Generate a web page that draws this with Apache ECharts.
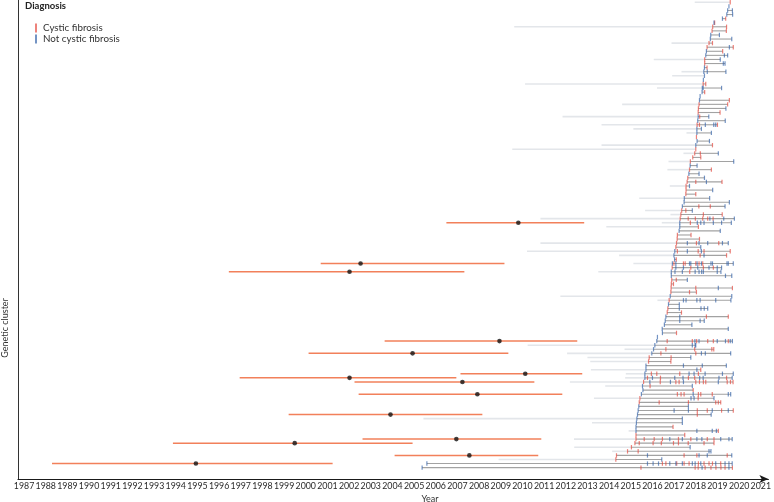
<!DOCTYPE html>
<html><head><meta charset="utf-8">
<script src="https://cdn.jsdelivr.net/npm/echarts@6/dist/echarts.min.js"></script>
<style>html,body{margin:0;padding:0;background:#fff}#c{width:774px;height:502px}</style>
</head><body><div id="c"></div>
<script>
const yearTicks = [1987,1988,1989,1990,1991,1992,1993,1994,1995,1996,1997,1998,1999,2000,2001,2002,2003,2004,2005,2006,2007,2008,2009,2010,2011,2012,2013,2014,2015,2016,2017,2018,2019,2020,2021];

// Earliest (faint) extent of each genetic cluster, row 0 = top
const faintStart = [
 2017.95,null,null,null,null,null,2009.62,null,null,null,
 2016.88,null,null,null,2016.06,null,null,2017.34,2016.91,null,
 2010.12,2016.21,null,null,null,2014.60,null,null,2011.85,null,
 2013.65,2015.12,2017.57,null,null,2013.65,2009.53,2017.43,null,2016.74,
 null,2016.69,null,null,null,2016.80,null,null,2015.39,null,
 null,2015.66,2016.83,2010.83,2016.43,2013.87,null,null,null,2010.83,
 null,2010.21,2014.46,null,2015.12,null,2013.50,null,null,null,
 null,null,2011.75,2016.23,null,null,null,null,null,null,
 null,null,null,null,2010.24,2014.71,2012.06,2013.00,2013.13,null,
 2013.16,2014.77,2014.74,2012.19,2013.82,null,null,2013.30,null,null,
 null,null,2005.43,2013.21,null,2014.90,null,2012.38,null,2012.39,
 2014.14,null,2008.90,null,null
];

// Isolate dates per cluster row: cystic fibrosis
const cfIsolates = [
 [2019.59],[],[],[],[2019.38],[2018.87],[2018.78,2019.42],[2018.75,2019.41],[],[],
 [2018.61,2018.77],[2018.52,2019.73],[2019.24],[],[2018.41],[2018.41],[2018.52],[],[],[],
 [2018.34,2018.46],[],[2018.41],[],[2019.55],[2018.15,2019.47],[2018.12],[2018.11,2019.12],[2018.18],[],
 [2018.06,2018.17,2019.00],[],[],[2018.03],[],[2018.77],[2018.00],[2017.95,2018.21],[2017.86,2018.23],[2017.75],
 [],[2017.71,2018.72],[],[2017.63],[2017.60,2018.00,2019.21],[2017.55],[2017.55],[2017.54,2018.00],[],[],
 [2018.14,2018.67],[2017.35,2017.54],[2017.31,2018.35,2019.22],[2017.28,2017.65,2017.98,2018.32,2018.55,2018.80],[2017.75],[2018.12],[],[2017.15,2017.78],[2017.14,2018.17],[2017.11,2018.03,2019.06],
 [2017.08],[2017.15,2018.11,2018.38,2019.59],[2018.20,2019.42],[2017.10],[2016.99,2017.43,2017.51,2018.00,2018.15,2018.32],[2016.91,2017.77,2018.35,2018.81],[2017.72],[],[2016.89,2017.10],[2016.87,2016.97],
 [2016.86,2018.00,2019.69],[2016.85,2017.71,2018.03],[],[2016.77],[],[2016.71],[2016.68,2017.34],[2018.49,2019.50],[],[],
 [],[2017.11],[],[2016.68,2017.84,2018.04,2018.55,2018.81,2019.50],[],[2016.62,2017.95,2018.74,2018.83],[2016.39,2018.00],[2015.85,2016.86],[2015.82,2016.85],[],
 [2018.23],[2015.95,2016.20,2017.26,2018.12],[2015.77,2016.37,2017.66,2017.95,2019.42],[2015.59,2016.36,2017.08,2017.23,2018.00,2018.17,2018.35,2018.46,2019.45,2019.60,2019.72],[2015.89],[2017.88],[2017.15,2017.32,2017.46,2018.12,2018.23,2018.76],[2015.42,2018.11],[2015.39,2016.31,2017.66,2018.92,2019.04,2019.15],[],
 [2018.07,2018.53,2019.19,2019.73],[2018.07],[],[],[2016.95],[2019.04],[2015.24,2017.49],[2015.24,2015.62,2016.08,2016.46,2017.20,2017.77,2018.53,2018.84],[2015.19,2015.39,2016.03,2016.41,2016.97,2017.20,2017.65,2018.38,2018.84],[2015.03],
 [2014.85,2015.34],[2014.34,2017.46,2018.05,2019.45],[2014.31],[2016.46,2016.62,2017.12,2017.46,2017.69,2018.12,2018.38,2018.61,2018.77,2019.15],[2015.47,2017.97,2018.11,2018.43,2018.70,2018.93,2019.16,2019.35,2019.69]
];

// Isolate dates per cluster row: not cystic fibrosis
const nonCfIsolates = [
 [],[2019.53],[2019.47,2019.69],[2019.43,2019.70],[2019.23],[2018.84],[],[],[2018.69,2019.09],[2018.67,2019.66],
 [],[2019.55],[2018.49],[2018.46,2019.32,2019.47],[2019.13],[2019.27,2019.35],[2018.40],[2018.37,2018.53,2019.39],[2018.40],[2018.35],
 [],[2018.30,2018.34,2019.19],[2018.29],[2018.20],[2018.17],[],[2019.39],[],[2018.11,2018.60],[2018.09,2019.36],
 [2018.44,2018.83,2018.92],[2018.05,2018.26],[2018.05,2018.72],[],[2018.06,2018.63],[2018.00],[],[2019.04],[],[2019.75],
 [2017.74,2018.06],[],[2017.68,2018.15],[2018.40],[2018.49],[2017.71],[2018.78],[],[2017.47,2018.64],[2017.46,2019.55],
 [2017.38,2019.35],[2017.84],[],[2018.65,2019.29,2019.78],[2017.26,2018.07,2018.23,2018.38,2018.81,2019.19,2019.64],[2017.26],[2017.23,2019.13],[],[],[2017.61,2018.15,2018.55,2019.23,2019.50],
 [2018.23],[2017.03,2017.61,2018.26],[2016.99,2018.38],[2017.02],[2016.92,2017.08,2017.71,2017.77,2018.06,2018.26,2018.70,2018.77,2019.44,2019.50,2019.73],[2017.08,2017.43,2018.09,2018.61,2018.99,2019.19],[2016.87,2017.04,2017.38,2017.97,2018.15,2018.27,2018.35,2018.99,2019.16],[2016.87,2019.37,2019.66],[2017.61],[],
 [2019.04],[],[2016.82,2019.66],[2017.43,2017.55,2018.05,2018.20,2018.92,2019.62],[2016.74,2017.24],[2017.24,2018.24,2018.39,2018.55],[],[2016.62,2017.26],[2016.59,2017.26,2018.20,2018.39],[2016.55,2017.82],
 [2016.45,2019.50],[2016.46],[2016.23],[2016.20,2017.96,2018.15,2018.99,2019.37,2019.59,2019.69],[2016.11,2017.84,2017.97,2018.00],[2016.05],[2015.97,2018.26,2018.44,2019.61],[2017.77],[],[2015.70,2017.43,2018.30,2019.41],
 [2015.70,2018.05],[2015.65,2017.69,2017.92,2018.43,2019.23,2019.73],[2015.65,2016.00,2017.03,2017.41,2018.18,2018.34,2019.07,2019.68],[2015.88,2016.83,2017.43,2019.04],[2015.54,2017.84],[2015.56],[2015.49,2017.88,2019.50,2019.61],[2017.78,2017.92,2018.84],[],[2015.37,2017.66],
 [2015.34,2017.00,2017.66,2018.76,2019.50],[2015.31,2018.71],[2015.28,2017.38],[2015.26,2017.38],[2015.24],[2015.24,2018.05,2018.76,2018.95],[],[2016.80,2017.38,2018.05,2018.28,2019.15,2019.53,2019.68],[],[2017.74],
 [2018.61,2018.70],[2015.77,2018.15,2018.53,2019.66],[2016.43],[2005.59,2015.77,2016.03,2016.28,2016.80,2017.08,2017.38,2017.84,2017.97,2018.23,2018.92,2019.35,2019.53,2019.68],[2005.37,2018.29,2019.53]
];

// Estimated most recent common ancestor (dot) with interval
const mrcaRow  = [54,64,66,83,86,91,92,93,96,101,107,108,111,113];
const mrcaLow  = [2006.49,2000.69,1996.45,2003.64,2000.13,2007.14,1996.95,2002.25,2002.44,1999.21,2002.62,1993.87,2004.10,1988.29];
const mrcaMid  = [2009.81,2002.53,2002.02,2008.94,2004.93,2010.13,2002.02,2007.23,2007.92,2003.91,2006.95,1999.49,2007.55,1994.93];
const mrcaHigh = [2012.85,2009.17,2007.32,2012.53,2009.35,2012.76,2006.95,2010.55,2011.84,2008.15,2010.87,2004.93,2010.73,2001.24];

const FONT = 'Lato';
const faintSegs = [], darkSegs = [], cfPts = [], ncfPts = [], mrcaSegs = [], mrcaDots = [];
for (let r = 0; r < cfIsolates.length; r++) {
  const all = cfIsolates[r].concat(nonCfIsolates[r]);
  const lo = Math.min.apply(null, all), hi = Math.max.apply(null, all);
  if (faintStart[r] !== null) faintSegs.push([r, faintStart[r], lo]);
  if (all.length > 1) darkSegs.push([r, lo, hi]);
  cfIsolates[r].forEach(v => cfPts.push([v, r]));
  nonCfIsolates[r].forEach(v => ncfPts.push([v, r]));
}
for (let i = 0; i < mrcaRow.length; i++) {
  mrcaSegs.push([mrcaRow[i], mrcaLow[i], mrcaHigh[i]]);
  mrcaDots.push([mrcaMid[i], mrcaRow[i]]);
}
function segRender(color, width) {
  return function (params, api) {
    const r = api.value(0);
    const p1 = api.coord([api.value(1), r]);
    const p2 = api.coord([api.value(2), r]);
    return {type: 'line', shape: {x1: p1[0], y1: p1[1], x2: p2[0], y2: p2[1]},
            style: {stroke: color, lineWidth: width}};
  };
}
const chart = echarts.init(document.getElementById('c'), null, {renderer: 'canvas'});
chart.setOption({
  animation: false,
  backgroundColor: '#fff',
  grid: {left: 18, top: 0, right: 4.5, bottom: 23},
  xAxis: {
    type: 'value', min: 1986.72, max: 2021.35, position: 'bottom',
    axisLine: {show: true, onZero: false, lineStyle: {color: '#1a1a1a', width: 1.2}, symbol: ['none', 'arrow'], symbolSize: [6, 9]},
    axisTick: {show: false},
    splitLine: {show: false},
    axisLabel: {customValues: yearTicks, color: '#2a2a2a', fontSize: 8.8, fontFamily: FONT, margin: 3, formatter: v => String(Math.round(v))}
  },
  yAxis: {
    type: 'value', inverse: true, min: -0.563, max: 116.78, position: 'left',
    axisLine: {show: true, onZero: false, lineStyle: {color: '#333', width: 1}},
    axisTick: {show: false}, axisLabel: {show: false}, splitLine: {show: false}
  },
  legend: {
    orient: 'vertical', left: 30, top: 18, itemWidth: 2, itemHeight: 9, itemGap: 1,
    icon: 'rect', textStyle: {fontSize: 9.8, fontFamily: FONT, color: '#333', padding: [0, 0, 0, 1]},
    data: ['Cystic fibrosis', 'Not cystic fibrosis'], selectedMode: false
  },
  graphic: [
    {type: 'text', left: 25, top: 1, style: {text: 'Diagnosis', font: 'bold 9.5px ' + FONT, fill: '#222'}},
    {type: 'text', x: 430, y: 499, style: {text: 'Year', font: '9px ' + FONT, fill: '#333', align: 'center', verticalAlign: 'middle'}},
    {type: 'text', x: 5, y: 328, rotation: Math.PI / 2, style: {text: 'Genetic cluster', font: '9px ' + FONT, fill: '#333', align: 'center', verticalAlign: 'middle'}}
  ],
  series: [
    {type: 'custom', silent: true, z: 1, renderItem: segRender('#e3e6ea', 1.6), encode: {x: [1, 2], y: 0}, data: faintSegs},
    {type: 'custom', silent: true, z: 2, renderItem: segRender('#a2a2a2', 1.1), encode: {x: [1, 2], y: 0}, data: darkSegs},
    {type: 'scatter', name: 'Cystic fibrosis', silent: true, z: 3, symbol: 'rect', symbolSize: [1.2, 4.4],
     itemStyle: {color: 'rgba(229,72,62,0.85)'}, data: cfPts},
    {type: 'scatter', name: 'Not cystic fibrosis', silent: true, z: 3, symbol: 'rect', symbolSize: [1.2, 4.4],
     itemStyle: {color: 'rgba(52,98,168,0.85)'}, data: ncfPts},
    {type: 'custom', silent: true, z: 4, renderItem: segRender('#f2805a', 1.5), encode: {x: [1, 2], y: 0}, data: mrcaSegs},
    {type: 'scatter', silent: true, z: 5, symbol: 'circle', symbolSize: 4.6, itemStyle: {color: '#111'}, data: mrcaDots}
  ]
});
</script></body></html>
